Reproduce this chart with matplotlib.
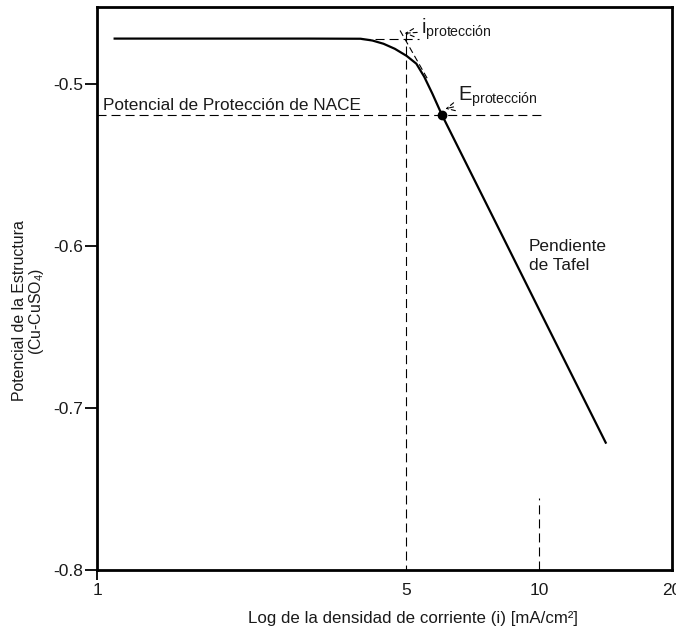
import matplotlib
matplotlib.use("Agg")
import matplotlib.pyplot as plt

plt.rcParams['font.family'] = ['Liberation Sans', 'DejaVu Sans']
plt.rcParams['mathtext.fontset'] = 'custom'
plt.rcParams['mathtext.rm'] = 'Liberation Sans'
plt.rcParams['mathtext.it'] = 'Liberation Sans'
plt.rcParams['lines.scale_dashes'] = False

# polarization curve (current density mA/cm2, potential V)
curve_i = [1.09, 2.0, 3.0, 3.95, 4.2, 4.45, 4.72, 5.02, 5.28, 5.50, 5.74, 6.03, 8.0, 10.0, 14.2]
curve_e = [-0.472, -0.472, -0.472, -0.4721, -0.4732, -0.4752, -0.4783, -0.4827, -0.4875,
           -0.4955, -0.506, -0.519, -0.586, -0.639, -0.722]

# construction lines
tafel_ext_i = [4.85, 5.6]
tafel_ext_e = [-0.467, -0.497]
flat_ext_i = [3.95, 5.35]
flat_ext_e = [-0.472, -0.472]
i_prot = 5.0
e_nace = -0.519
e_prot_i = 6.03

x_ticks = [1, 5, 10, 20]
y_ticks = [-0.5, -0.6, -0.7, -0.8]

fig = plt.figure(figsize=(6.76, 6.30), dpi=100)
ax = fig.add_axes([0.1435, 0.0952, 0.8505, 0.8937])
ax.set_xscale('log')
ax.set_xlim(1, 20)
ax.set_ylim(-0.8, -0.4525)

dash = (6.5, 3.6)
ax.plot(curve_i, curve_e, color='black', lw=1.6, solid_capstyle='butt')
ax.plot(tafel_ext_i, tafel_ext_e, color='black', lw=0.8, dashes=(4.5, 2.5))
ax.plot(flat_ext_i, flat_ext_e, color='black', lw=0.8, dashes=dash)
ax.plot([1, 10.1], [e_nace, e_nace], color='black', lw=0.8, dashes=dash)
ax.plot([i_prot, i_prot], [-0.468, -0.8], color='black', lw=0.8, dashes=dash)
ax.plot([10, 10], [-0.8, -0.7556], color='black', lw=0.8, dashes=dash)
ax.plot([e_prot_i], [e_nace], 'o', color='black', ms=6)

tc = '#1a1a1a'
fs = 12.4
ax.text(1.032, -0.5163, 'Potencial de Protección de NACE', fontsize=fs, color=tc,
        ha='left', va='baseline')
ax.text(9.5, -0.5955, 'Pendiente\nde Tafel', fontsize=fs, color=tc, ha='left', va='top',
        linespacing=1.35)
ax.annotate(r'i$_{\mathrm{protección}}$', xy=(4.93, -0.4688), xytext=(5.42, -0.4692),
            fontsize=14.5, color=tc, ha='left', va='baseline',
            arrowprops=dict(arrowstyle='->', lw=0.8, color='black', linestyle=(0, (3, 2)),
                            shrinkA=1, shrinkB=1))
ax.annotate(r'E$_{\mathrm{protección}}$', xy=(6.1, -0.5155), xytext=(6.55, -0.5105),
            fontsize=14.5, color=tc, ha='left', va='baseline',
            arrowprops=dict(arrowstyle='->', lw=0.8, color='black', linestyle=(0, (3, 2)),
                            shrinkA=1, shrinkB=1))

ax.set_xticks(x_ticks)
ax.set_xticklabels([str(t) for t in x_ticks])
ax.xaxis.set_minor_locator(matplotlib.ticker.NullLocator())
ax.set_yticks(y_ticks)
ax.set_yticklabels([str(t) for t in y_ticks])
ax.tick_params(axis='both', labelsize=12.5, labelcolor=tc, direction='out', width=1.3)
ax.tick_params(axis='y', length=9, pad=1)
ax.tick_params(axis='x', length=7, pad=2)
for t in ax.xaxis.get_major_ticks()[1:]:
    t.tick1line.set_visible(False)

for s in ax.spines.values():
    s.set_linewidth(2.0)

ax.set_xlabel('Log de la densidad de corriente (i) [mA/cm²]', fontsize=12.2, color=tc)
ax.xaxis.set_label_coords(0.549, -0.072)
ax.set_ylabel('Potencial de la Estructura\n' + r'(Cu-CuSO$_4$)', fontsize=11.4, color=tc,
              linespacing=1.0, va='center', ha='center')
ax.yaxis.set_label_coords(-0.119, 0.46)

fig.savefig('out.png', dpi=100)
